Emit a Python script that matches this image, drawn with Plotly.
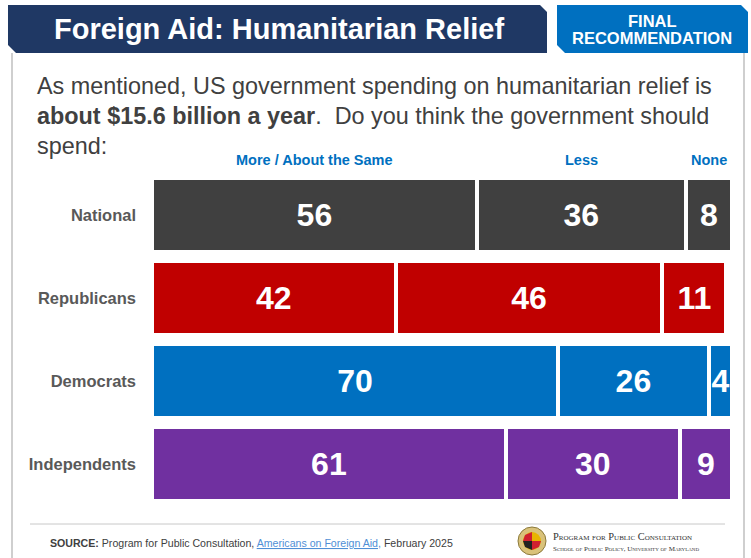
import plotly.graph_objects as go

# Survey results: share of respondents by preferred spending level
groups = ["National", "Republicans", "Democrats", "Independents"]
responses = ["More / About the Same", "Less", "None"]
more_same = [56, 42, 70, 61]
less = [36, 46, 26, 30]
none = [8, 11, 4, 9]
group_colors = ["#404040", "#c00000", "#0070c0", "#7030a0"]

W, H = 751, 558
FONT = "Liberation Sans, Arial, sans-serif"
SERIF = "Liberation Serif, DejaVu Serif, serif"


def px(x):
    return x / W


def py(y):
    return 1 - y / H


fig = go.Figure()

for name, vals in zip(responses, [more_same, less, none]):
    fig.add_trace(go.Bar(
        y=groups, x=vals, name=name, orientation="h",
        marker=dict(color=group_colors, line=dict(color="white", width=4)),
        text=vals, texttemplate="%{text}", textposition="inside",
        insidetextanchor="middle", constraintext="none",
        textfont=dict(family=FONT, size=32, color="white", weight="bold"),
        hoverinfo="skip", showlegend=False,
    ))

# bar area in pixel terms
bx0, bx1 = 152, 732
by0, by1 = 173.5, 505.5

fig.update_layout(
    width=W, height=H, margin=dict(l=0, r=0, t=0, b=0),
    paper_bgcolor="white", plot_bgcolor="white",
    barmode="stack", bargap=0.108,
    xaxis=dict(domain=[px(bx0), px(bx1)], range=[0, 100], visible=False, fixedrange=True),
    yaxis=dict(domain=[py(by1), py(by0)], categoryorder="array",
               categoryarray=groups, autorange="reversed", showgrid=False,
               zeroline=False, showline=False, ticks="", ticklabelstandoff=15,
               fixedrange=True,
               tickfont=dict(family=FONT, size=16.5, color="#595959", weight="bold")),
    font=dict(family=FONT),
)


def path(points):
    return "M " + " L ".join(f"{px(x):.5f},{py(y):.5f}" for x, y in points) + " Z"


def line(x0, y0, x1, y1, color, width):
    return dict(type="line", xref="paper", yref="paper", x0=px(x0), x1=px(x1),
                y0=py(y0), y1=py(y1), line=dict(color=color, width=width))


shapes = [
    # title banner and tag
    dict(type="path", xref="paper", yref="paper", layer="below",
         path=path([(8, 5), (540, 5), (547, 12), (547, 53), (16, 53), (8, 45)]),
         fillcolor="#1f3864", line=dict(width=0)),
    dict(type="path", xref="paper", yref="paper", layer="below",
         path=path([(557, 5), (741, 5), (748, 12), (748, 53), (565, 53), (557, 45)]),
         fillcolor="#0070c0", line=dict(width=0)),
    # side borders and footer rule
    line(12, 53, 12, 558, "#bfbfbf", 1.5),
    line(744, 53, 744, 558, "#bfbfbf", 1.5),
    line(30, 524, 725, 524, "#c8c8c8", 1),
    # university seal
    dict(type="circle", xref="paper", yref="paper", x0=px(518), x1=px(546),
         y0=py(555), y1=py(527), fillcolor="#d9c27a", line=dict(color="#8c7a3c", width=1)),
    dict(type="circle", xref="paper", yref="paper", x0=px(523), x1=px(541),
         y0=py(550), y1=py(532), fillcolor="#e8b400", line=dict(width=0)),
    dict(type="path", xref="paper", yref="paper",
         path=path([(532, 541), (541, 541), (539, 547), (532, 550)]),
         fillcolor="#d02030", line=dict(width=0)),
    dict(type="path", xref="paper", yref="paper",
         path=path([(532, 541), (532, 550), (525, 547), (523, 541)]),
         fillcolor="#222222", line=dict(width=0)),
    dict(type="path", xref="paper", yref="paper",
         path=path([(532, 541), (523, 541), (525, 535), (532, 532)]),
         fillcolor="#d02030", line=dict(width=0)),
]
fig.update_layout(shapes=shapes)

ann = []


def text(x, y, s, size, color, xanchor="left", family=FONT, weight="normal", variant="normal"):
    ann.append(dict(x=px(x), y=py(y), xref="paper", yref="paper", text=s, showarrow=False,
                    xanchor=xanchor, yanchor="middle", align="left" if xanchor == "left" else "center",
                    font=dict(family=family, size=size, color=color, weight=weight, variant=variant)))


text(279, 29, "Foreign Aid: Humanitarian Relief", 29, "white", "center", weight="bold")
text(652, 21, "FINAL", 16.5, "white", "center", weight="bold")
text(652, 38, "RECOMMENDATION", 16.5, "white", "center", weight="bold")

q = "#404040"
text(35, 86, "As mentioned, US government spending on humanitarian relief is", 23.4, q)
text(35, 116, "<b>about $15.6 billion a year</b>.  Do you think the government should", 23.4, q)
text(35, 146, "spend:", 23.4, q)

# column headers centred over the National row segments
cum = 0
for name, v in zip(responses, [more_same[0], less[0], none[0]]):
    ann.append(dict(x=cum + v / 2, y=py(160), xref="x", yref="paper", text=name, showarrow=False,
                    xanchor="center", yanchor="middle",
                    font=dict(family=FONT, size=14.5, color="#0070c0", weight="bold")))
    cum += v

text(48, 543, "<b>SOURCE:</b> Program for Public Consultation, "
     "<a href='#' style='color:#4f8fd6'><span style='text-decoration:underline'>Americans on Foreign Aid</span></a>"
     "<span style='color:#4f8fd6'>,</span> February 2025", 10.6, "#404040")

text(551, 536, "Program for Public Consultation", 10.4, "#333333", family=SERIF, variant="small-caps")
text(551, 549, "School of Public Policy, University of Maryland", 7, "#333333",
     family=SERIF, variant="small-caps")

fig.update_layout(annotations=ann)

fig.write_html("out.html")
